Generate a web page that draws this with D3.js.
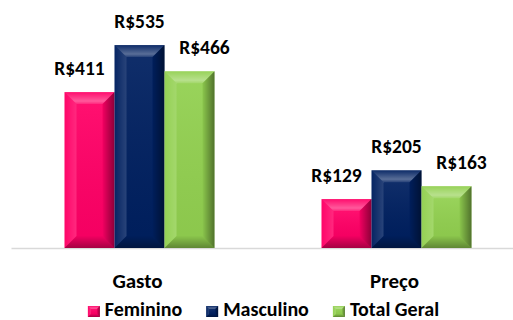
<!DOCTYPE html>
<html>
<head>
<meta charset="utf-8">
<script src="https://cdn.jsdelivr.net/npm/d3@7/dist/d3.min.js"></script>
<style>
  html, body { margin: 0; padding: 0; background: #fff; }
  svg { display: block; }
  text { font-family: Calibri, Carlito, "Open Sans", sans-serif; font-weight: bold; fill: #000; }
</style>
</head>
<body>
<svg id="chart" width="513" height="320"></svg>
<script>
// ---- data ----
const categories = ["Gasto", "Preço"];
const series = ["Feminino", "Masculino", "Total Geral"];
const values = {
  "Feminino":    [411, 129],
  "Masculino":   [535, 205],
  "Total Geral": [466, 163]
};
const valuePrefix = "R$";

// ---- styles ----
const colors = { "Feminino": "#FF0066", "Masculino": "#002060", "Total Geral": "#92D050" };
const labelDx = { "Feminino": -10, "Masculino": 0, "Total Geral": 15 };

const svg = d3.select("#chart");

const x0 = d3.scaleBand().domain(categories).range([11, 525]).padding(0);
const x1 = d3.scaleBand().domain(series).range([0, x0.bandwidth()]).paddingInner(0).paddingOuter(1.07);
const y = d3.scaleLinear().domain([0, 600]).range([248, 20.4]);

// gradients
const defs = svg.append("defs");
function grad(id, a, b, c, d, stops) {
  const g = defs.append("linearGradient").attr("id", id)
    .attr("x1", a).attr("y1", b).attr("x2", c).attr("y2", d);
  stops.forEach(s => g.append("stop").attr("offset", s[0]).attr("stop-color", s[1]).attr("stop-opacity", s[2]));
}
grad("gTop", 0, 0, 0, 1, [[0, "#fff", 0.05], [0.75, "#fff", 0.35], [1, "#fff", 0.15]]);
grad("gLeft", 0, 0, 1, 0, [[0, "#fff", 0.02], [1, "#fff", 0.16]]);
grad("gRight", 0, 0, 1, 0, [[0, "#000", 0.05], [1, "#000", 0.45]]);
grad("gBottom", 0, 0, 0, 1, [[0, "#000", 0.05], [1, "#000", 0.35]]);
grad("gFace", 0, 0, 0, 1, [[0, "#fff", 0.06], [1, "#000", 0.04]]);

function bevelRect(g, x, yy, w, h, color, b) {
  b = Math.min(b, w / 3, h / 3);
  g.append("rect").attr("x", x).attr("y", yy).attr("width", w).attr("height", h).attr("fill", color);
  const p = pts => pts.map(q => q.join(",")).join(" ");
  g.append("polygon").attr("points", p([[x + b, yy + b], [x + w - b, yy + b], [x + w - b, yy + h - b], [x + b, yy + h - b]])).attr("fill", "url(#gFace)");
  g.append("polygon").attr("points", p([[x, yy], [x + w, yy], [x + w - b, yy + b], [x + b, yy + b]])).attr("fill", "url(#gTop)");
  g.append("polygon").attr("points", p([[x, yy], [x + b, yy + b], [x + b, yy + h - b], [x, yy + h]])).attr("fill", "url(#gLeft)");
  g.append("polygon").attr("points", p([[x + w, yy], [x + w, yy + h], [x + w - b, yy + h - b], [x + w - b, yy + b]])).attr("fill", "url(#gRight)");
  g.append("polygon").attr("points", p([[x, yy + h], [x + b, yy + h - b], [x + w - b, yy + h - b], [x + w, yy + h]])).attr("fill", "url(#gBottom)");
}

// axis
const axis = svg.append("g").attr("transform", "translate(0,248)")
  .call(d3.axisBottom(x0).tickSize(0).tickPadding(25));
axis.select(".domain").attr("stroke", "#D9D9D9").attr("stroke-width", 1.6);
axis.selectAll(".tick text").style("font-size", "21px").attr("dx", "-2");

// bars
const barsG = svg.append("g");
categories.forEach((c, ci) => {
  series.forEach(s => {
    const v = values[s][ci];
    const bx = x0(c) + x1(s);
    const by = y(v);
    const g = barsG.append("g");
    bevelRect(g, bx, by, x1.bandwidth(), y(0) - by, colors[s], 12);
    svg.append("text")
      .attr("x", bx + x1.bandwidth() / 2 + labelDx[s])
      .attr("y", by - 17)
      .attr("text-anchor", "middle")
      .style("font-size", "19.5px")
      .text(valuePrefix + v);
  });
});

// legend
const leg = svg.append("g").attr("class", "legend");
let lx = 0;
const gap = 24, mw = 12, mh = 11, tg = 5;
series.forEach((s) => {
  const it = leg.append("g").attr("transform", `translate(${lx},0)`);
  bevelRect(it, 0, -mh + 1, mw, mh, colors[s], 3);
  const t = it.append("text").attr("x", mw + tg).attr("y", 0).style("font-size", "20px").text(s);
  lx += mw + tg + t.node().getComputedTextLength() + gap;
});
const legW = lx - gap;
leg.attr("transform", `translate(${263.5 - legW / 2},316)`);
</script>
</body>
</html>
